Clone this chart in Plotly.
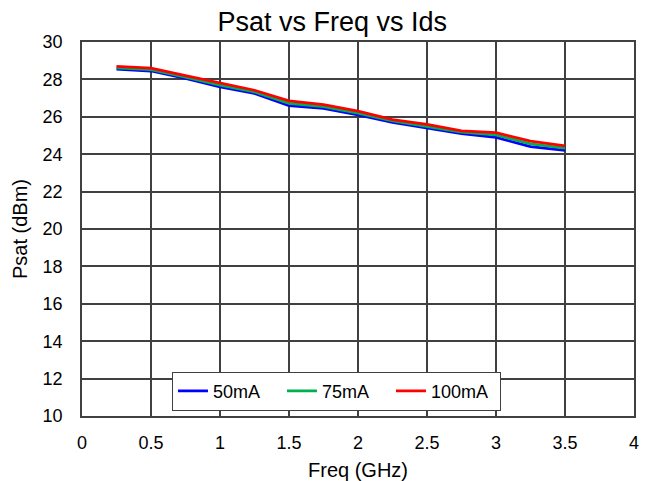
import plotly.graph_objects as go

freq = [0.25, 0.5, 0.75, 1.0, 1.25, 1.5, 1.75, 2.0, 2.25, 2.5, 2.75, 3.0, 3.25, 3.5]
psat_50 = [28.55, 28.45, 28.05, 27.6, 27.25, 26.6, 26.45, 26.1, 25.7, 25.4, 25.1, 24.9, 24.4, 24.2]
psat_75 = [28.62, 28.52, 28.12, 27.7, 27.33, 26.72, 26.55, 26.2, 25.78, 25.5, 25.18, 25.03, 24.55, 24.33]
psat_100 = [28.7, 28.6, 28.2, 27.8, 27.42, 26.85, 26.65, 26.3, 25.85, 25.6, 25.25, 25.15, 24.7, 24.45]

series = [("50mA", psat_50, "#0000FF"), ("75mA", psat_75, "#00B050"), ("100mA", psat_100, "#FF0000")]

fig = go.Figure()
for name, vals, col in series:
    fig.add_trace(go.Scatter(x=freq, y=vals, mode="lines", name=name,
                             line=dict(color=col, width=2.8)))

axis_common = dict(showgrid=True, gridcolor="#404040", gridwidth=1.5,
                   showline=True, linecolor="#404040", linewidth=1.5, mirror=True,
                   ticks="", zeroline=False, tickfont=dict(size=18), automargin=False)

fig.update_layout(
    width=641, height=473,
    margin=dict(l=74, r=15, t=34, b=65),
    paper_bgcolor="white", plot_bgcolor="white",
    font=dict(family="Liberation Sans, Arial, sans-serif", size=18, color="black"),
    title=dict(text="Psat vs Freq vs Ids", x=0.506, xanchor="center", xref="container",
               y=0.972, yanchor="middle", font=dict(size=27)),
    xaxis=dict(title=dict(text="Freq (GHz)", standoff=11, font=dict(size=20)),
               range=[0, 4], dtick=0.5, ticklabelstandoff=10, **axis_common),
    yaxis=dict(title=dict(text="Psat (dBm)", standoff=10, font=dict(size=20)),
               range=[10, 30], dtick=2, ticklabelstandoff=14, **axis_common),
    legend=dict(orientation="h", x=0.163, y=0.014, xanchor="left", yanchor="bottom",
                bordercolor="#404040", borderwidth=1, bgcolor="white",
                font=dict(size=18), entrywidth=64),
)

fig.write_html("out.html")
